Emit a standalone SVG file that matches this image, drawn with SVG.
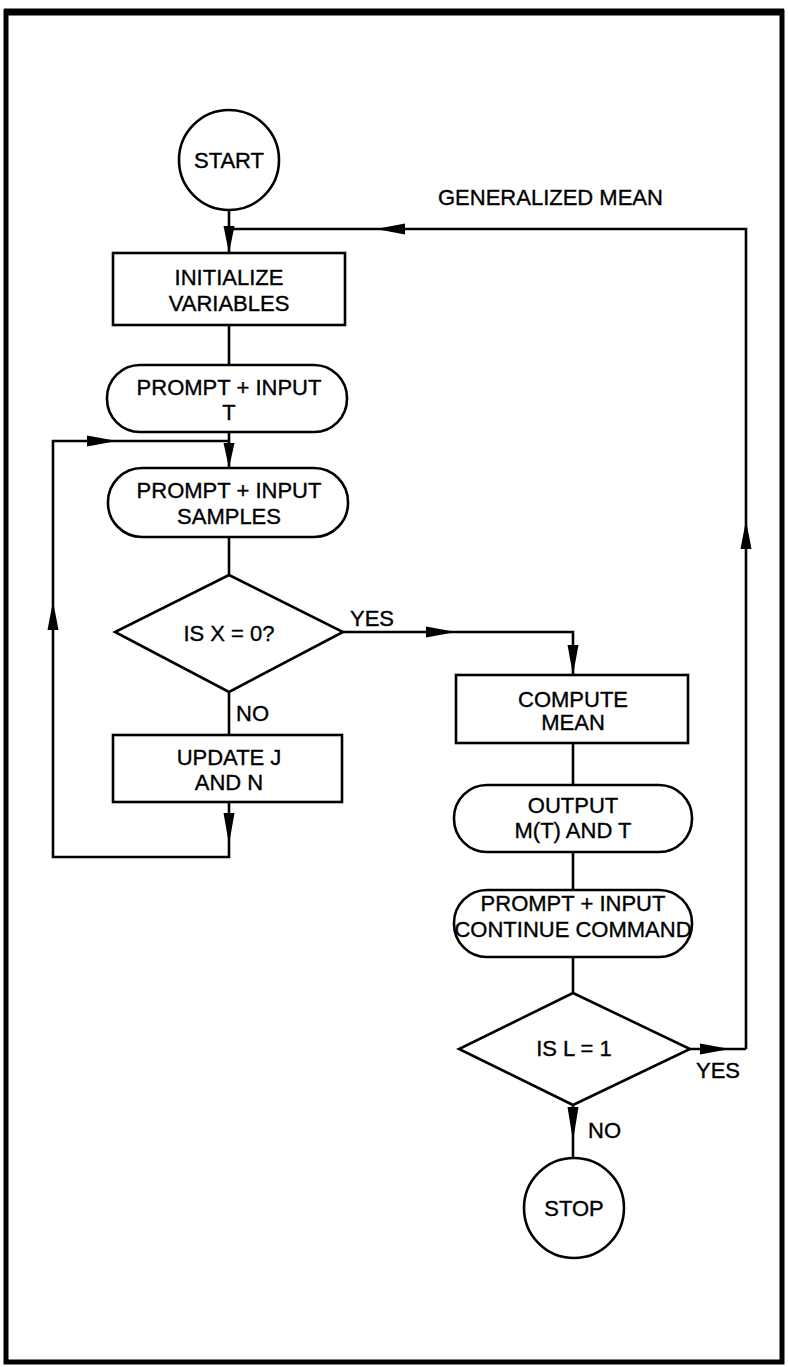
<svg xmlns="http://www.w3.org/2000/svg" width="788" height="1367" viewBox="0 0 788 1367">
<style>
.s{fill:#fff;stroke:#000;stroke-width:2.6}
.c{fill:none;stroke:#000;stroke-width:2.6}
text{font-family:"Liberation Sans",Arial,sans-serif;font-size:22px;fill:#000;stroke:#000;stroke-width:0.35;text-anchor:middle;dominant-baseline:central}
.l{text-anchor:start}
.ah{fill:#000;stroke:none}
</style>
<rect x="0" y="0" width="788" height="1367" fill="#fff"/>
<rect x="6" y="12" width="776" height="1350" fill="none" stroke="#000" stroke-width="5"/>
<path d="M4 12H784" stroke="#000" stroke-width="7"/>
<g id="connectors">
<path class="c" d="M229 210V253"/>
<path class="c" d="M746 1049V229H229"/>
<path class="c" d="M229 325V365"/>
<path class="c" d="M229 432V468"/>
<path class="c" d="M229 537V575"/>
<path class="c" d="M229 692V735"/>
<path class="c" d="M229 802V857H53V441H229"/>
<path class="c" d="M343 632H573V675"/>
<path class="c" d="M573 743V785"/>
<path class="c" d="M573 852V890"/>
<path class="c" d="M573 957V993"/>
<path class="c" d="M690 1049H746"/>
<path class="c" d="M573 1105V1158"/>
<path class="ah" d="M229 253L223.5 226L234.5 226Z"/>
<path class="ah" d="M376 229L405 223.5L405 234.5Z"/>
<path class="ah" d="M746 520L751.5 549L740.5 549Z"/>
<path class="ah" d="M117 441L87 435.5L87 446.5Z"/>
<path class="ah" d="M229 468L223.5 443L234.5 443Z"/>
<path class="ah" d="M53 601L58.5 630L47.5 630Z"/>
<path class="ah" d="M229 844L223.5 813L234.5 813Z"/>
<path class="ah" d="M456 632L426 626.5L426 637.5Z"/>
<path class="ah" d="M573 675L567.5 645L578.5 645Z"/>
<path class="ah" d="M730 1049L700 1043.5L700 1054.5Z"/>
<path class="ah" d="M573 1141L567.5 1107L578.5 1107Z"/>
<text x="438" y="197" class="l">GENERALIZED MEAN</text>
<text x="350" y="618" class="l">YES</text>
<text x="236" y="713" class="l">NO</text>
<text x="696" y="1070" class="l">YES</text>
<text x="588" y="1130" class="l">NO</text>
</g>
<g id="start"><circle class="s" cx="229" cy="160" r="50"/><text x="229" y="160">START</text></g>
<g id="init"><rect class="s" x="113" y="253" width="232" height="72"/><text x="229" y="277">INITIALIZE</text><text x="229" y="303">VARIABLES</text></g>
<g id="promptT"><rect class="s" x="107" y="365" width="240" height="67" rx="33" ry="33"/><text x="229" y="387">PROMPT + INPUT</text><text x="229" y="412">T</text></g>
<g id="promptS"><rect class="s" x="108" y="468" width="240" height="69" rx="34" ry="34"/><text x="229" y="490">PROMPT + INPUT</text><text x="229" y="516">SAMPLES</text></g>
<g id="isX"><path class="s" d="M229 575L343 632L229 692L115 632Z"/><text x="229" y="633">IS X = 0?</text></g>
<g id="update"><rect class="s" x="113" y="735" width="229" height="67"/><text x="229" y="757">UPDATE J</text><text x="229" y="782">AND N</text></g>
<g id="compute"><rect class="s" x="456" y="675" width="232" height="68"/><text x="573" y="699">COMPUTE</text><text x="573" y="722">MEAN</text></g>
<g id="output"><rect class="s" x="454" y="785" width="238" height="67" rx="33" ry="33"/><text x="573" y="805">OUTPUT</text><text x="573" y="830">M(T) AND T</text></g>
<g id="promptC"><rect class="s" x="454" y="890" width="238" height="67" rx="33" ry="33"/><text x="573" y="903">PROMPT + INPUT</text><text x="573" y="929">CONTINUE COMMAND</text></g>
<g id="isL"><path class="s" d="M573 993L690 1049L573 1105L459 1049Z"/><text x="574" y="1048">IS L = 1</text></g>
<g id="stop"><circle class="s" cx="574" cy="1208" r="50"/><text x="574" y="1208">STOP</text></g>
</svg>
